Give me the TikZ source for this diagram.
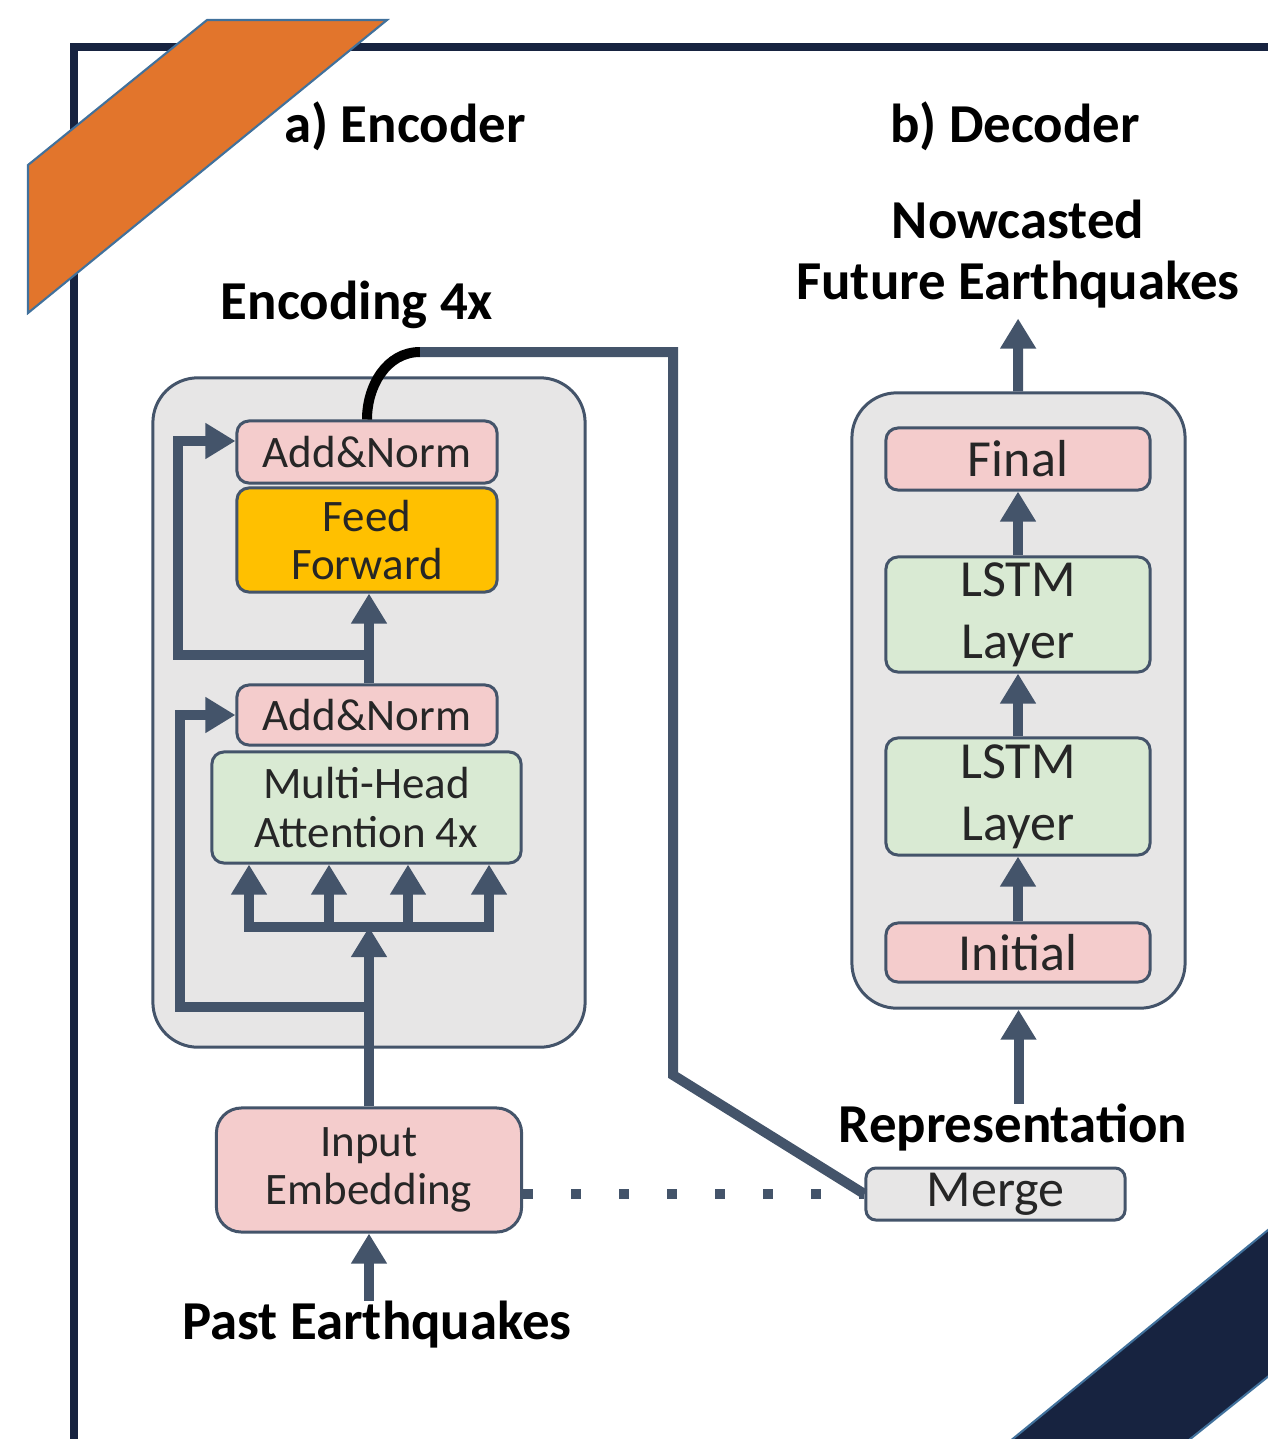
\documentclass[tikz,border=0pt]{standalone}
\usepackage{fontspec}
\setmainfont{Carlito}
\usetikzlibrary{arrows.meta}

\definecolor{navy}{RGB}{23,35,64}
\definecolor{band}{RGB}{226,117,44}
\definecolor{edge}{RGB}{65,113,156}
\definecolor{slate}{RGB}{68,84,106}
\definecolor{panel}{RGB}{231,230,230}
\definecolor{pinkbox}{RGB}{244,204,204}
\definecolor{amber}{RGB}{255,192,0}
\definecolor{greenbox}{RGB}{217,234,211}
\definecolor{ink}{RGB}{38,38,38}

\begin{document}
\begin{tikzpicture}
  [x=0.01cm,y=-0.01cm,
   frame/.style={draw=navy,line width=0.08cm},
   group/.style={draw=slate,fill=panel,line width=0.03cm,rounded corners=0.45cm,inner sep=0pt},
   box/.style={draw=slate,line width=0.03cm,rounded corners=0.12cm,inner sep=0pt,align=center,text=ink},
   enc/.style={box,font=\fontsize{12.8}{13.7}\selectfont},
   dec/.style={box,font=\fontsize{14.8}{17.6}\selectfont},
   title/.style={font=\bfseries\fontsize{15.6}{17.2}\selectfont,align=center,inner sep=0pt},
   line/.style={draw=slate,line width=0.1cm},
   flow/.style={line,-{Triangle[width=0.34cm,length=0.3cm]}},
   dots/.style={draw=slate,line width=0.1cm,dash pattern=on 0.1cm off 0.38cm}]

  \clip (0,0) rectangle (1268,1439);

  % frame and corner bands
  \draw[frame] (74,1460) -- (74,47) -- (1290,47);
  \draw[fill=band,draw=edge,line width=0.6pt] (207,20) -- (387,20) -- (28,313) -- (28,165) -- cycle;
  \draw[fill=navy,draw=edge,line width=0.6pt] (1290,1212) -- (1290,1359) -- (1164,1460) -- (987,1460) -- cycle;

  % labels
  \node[title] (enct) at (405,126) {a) Encoder};
  \node[title] (dect) at (1015,126) {b) Decoder};
  \node[title] (times) at (357,305) {Encoding 4x};
  \node[title] (out) at (1018,254) {Nowcasted\\Future Earthquakes};
  \node[title] (rep) at (1013,1128) {Representation};
  \node[title] (past) at (377,1325) {Past Earthquakes};

  % encoder
  \node[group,minimum width=4.32cm,minimum height=6.69cm] (encg) at (369,712.5) {};
  \node[enc,fill=pinkbox,minimum width=2.6cm,minimum height=0.62cm] (addtop) at (367,452) {Add\&Norm};
  \node[enc,fill=amber,minimum width=2.6cm,minimum height=1.04cm] (ff) at (367,540) {Feed\\Forward};
  \node[enc,fill=pinkbox,minimum width=2.6cm,minimum height=0.6cm] (addlow) at (367,715) {Add\&Norm};
  \node[enc,fill=greenbox,minimum width=3.09cm,minimum height=1.11cm] (mha) at (366.5,807.5) {Multi-Head\\Attention 4x};
  \node[enc,fill=pinkbox,minimum width=3.05cm,minimum height=1.24cm,rounded corners=0.25cm] (emb) at (369,1170) {Input\\Embedding};

  % decoder
  \node[group,minimum width=3.33cm,minimum height=6.15cm] (decg) at (1018.5,700.5) {};
  \node[dec,fill=pinkbox,minimum width=2.64cm,minimum height=0.62cm] (final) at (1018,459) {Final};
  \node[dec,fill=greenbox,minimum width=2.64cm,minimum height=1.15cm] (lstmb) at (1018,614.5) {LSTM\\Layer};
  \node[dec,fill=greenbox,minimum width=2.64cm,minimum height=1.17cm] (lstma) at (1018,796.5) {LSTM\\Layer};
  \node[dec,fill=pinkbox,minimum width=2.64cm,minimum height=0.59cm] (init) at (1018,952.5) {Initial};
  \node[dec,fill=panel,minimum width=2.59cm,minimum height=0.52cm,rounded corners=0.1cm] (merge) at (995.5,1194) {Merge};

  \coordinate (bar) at (369,927);
  \coordinate (res1) at (369,1007);
  \coordinate (res2) at (369,655);
  \coordinate (knee) at (420,352);
  \coordinate (turn) at (673,1075);
  \foreach \x [count=\i] in {249,329,408,489}
    \coordinate (head\i) at (\x,927);

  \draw[flow] (past.north -| emb) -- (emb);
  \draw[flow] (emb) -- (bar);
  \draw[line,line cap=rect] (head1) -- (head4);
  \foreach \i in {1,...,4}
    \draw[flow] (head\i) -- (head\i |- mha.south);
  \draw[flow] (res1) -| ([xshift=-0.55cm]addlow.west) -- (addlow.west);
  \draw[line] (addlow.north -| res2) -- (res2);
  \draw[flow] (res2) -- (res2 |- ff.south);
  \draw[flow] (res2) -| ([xshift=-0.57cm,yshift=0.11cm]addtop.west) -- ([yshift=0.11cm]addtop.west);

  \draw[line,draw=black] (addtop.north) to[out=90,in=180] (knee);
  \draw[line] (knee) -| (turn) -- (merge.west);
  \draw[dots] (emb.east |- merge) -- (merge.west);

  \draw[flow] (rep.north -| decg) -- (decg);
  \draw[flow] (init) -- (lstma);
  \draw[flow] (lstma) -- (lstmb);
  \draw[flow] (lstmb) -- (final);
  \draw[flow,shorten >=0.1cm] (decg) -- (out);
\end{tikzpicture}
\end{document}
